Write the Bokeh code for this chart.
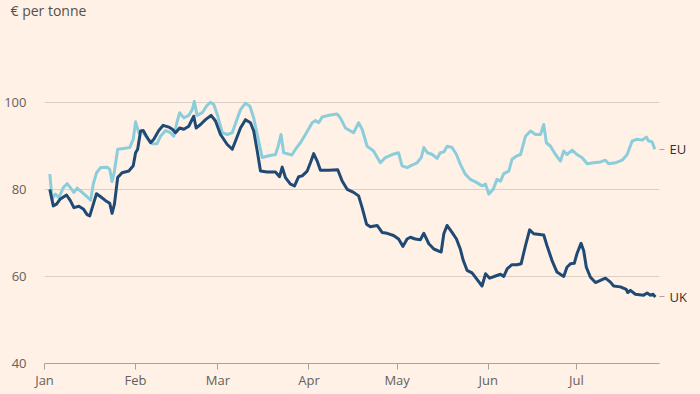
import datetime as dt
from bokeh.plotting import figure
from bokeh.models import Range1d, FixedTicker, LinearAxis
from bokeh.embed import file_html
from bokeh.resources import INLINE

# ---------------- data ----------------
year_start = "2023-01-01"

# days since 1 Jan 2023, and price in EUR per tonne
uk_days = [1.8, 3.0, 4.1, 5.4, 7.5, 8.8, 10.0, 11.7, 13.2, 14.5, 15.4, 16.8, 17.7, 19.1, 20.8, 22.2,
           23.0, 23.8, 24.9, 26.4, 28.7, 30.2, 31.0, 31.7, 32.7, 33.6, 34.7, 36.1, 37.2, 38.9, 40.4, 42.3,
           43.5, 44.6, 46.0, 47.4, 49.1, 50.8, 51.6, 53.1, 54.8, 56.7, 58.2, 59.9, 62.2, 63.9, 65.0, 66.7,
           68.4, 70.1, 71.2, 72.4, 73.5, 75.8, 78.6, 80.0, 80.9, 82.0, 83.7,
           85.1, 86.5, 87.7, 89.4, 90.5, 91.6, 92.8, 93.9, 96.7, 99.8, 101.3, 103.0, 105.2, 106.9, 108.1,
           109.6, 110.9, 113.2, 114.9, 116.6, 118.8, 120.5, 122.0, 123.4, 124.5,
           126.2, 127.9, 129.1, 130.8, 132.5, 135.0, 135.9, 137.0, 138.7, 140.2, 141.5, 142.5, 143.8,
           145.5, 147.0, 148.9, 150.1, 151.5, 153.5, 155.2, 156.3, 157.5, 159.1, 160.8, 162.2,
           163.7, 165.1, 166.5, 169.9, 171.0, 172.7, 174.4, 176.7, 177.8, 179.0, 180.3, 181.2, 182.6,
           183.5, 184.4, 185.8, 187.5, 189.2, 190.9, 192.6, 193.7, 196.0, 198.0, 198.5, 199.4, 201.1,
           203.9, 205.1, 206.2, 207.1, 207.9]
uk_values = [80.0, 76.2, 76.6, 77.8, 78.7, 77.4, 75.8, 76.1, 75.5, 74.2, 73.9, 77.0, 79.0, 78.3, 77.4, 76.8,
             74.5, 76.6, 82.7, 83.8, 84.2, 85.4, 88.4, 89.2, 93.4, 93.5, 92.2, 90.7, 91.5, 93.5, 94.7, 94.3,
             93.8, 93.0, 94.1, 93.8, 94.5, 96.8, 94.1, 94.9, 96.0, 97.0, 95.7, 92.6, 90.3, 89.2, 91.1, 94.1,
             96.0, 95.3, 93.4, 88.8, 84.2, 84.0, 84.0, 82.9, 85.1, 82.7, 81.2,
             80.8, 82.9, 83.1, 84.2, 86.1, 88.2, 86.5, 84.4, 84.4, 84.5, 81.9, 80.0, 79.3, 78.5, 75.8,
             72.0, 71.4, 71.7, 70.1, 69.9, 69.4, 68.6, 66.9, 68.6, 69.0,
             68.6, 68.4, 69.9, 67.5, 66.3, 65.6, 69.8, 71.7, 70.1, 68.6, 66.3, 63.7, 61.4,
             60.8, 59.5, 57.8, 60.6, 59.6, 60.1, 60.5, 60.0, 61.8, 62.7, 62.7, 62.9,
             67.1, 70.7, 69.8, 69.5, 67.1, 63.7, 61.0, 60.0, 62.1, 62.9, 63.0, 65.2, 67.6,
             65.9, 62.1, 59.8, 58.6, 59.1, 59.6, 58.7, 57.8, 57.6, 57.0, 56.3, 56.8, 55.9,
             55.7, 56.2, 55.7, 55.9, 55.3]

eu_days = [1.8, 2.6, 3.7, 4.9, 6.4, 7.7, 8.8, 10.0, 11.1, 12.8, 14.5, 15.7, 16.6, 17.7, 19.1, 21.3,
           22.2, 23.0, 23.8, 24.9, 27.0, 29.0, 30.2, 31.0, 32.1, 33.2, 34.9, 36.6, 38.3, 39.5, 41.2, 42.9,
           44.0, 45.2, 46.0, 47.4, 49.1, 50.3, 51.0, 51.9, 53.7, 55.1, 56.5, 57.6, 58.8, 60.5, 62.2, 63.9,
           65.3, 66.7, 68.4, 69.9, 71.2, 72.4, 74.1, 76.3, 78.6, 79.4, 80.5, 81.4,
           84.2, 85.4, 87.1, 88.8, 91.1, 92.2, 93.3, 94.5, 96.7, 99.6, 100.7, 102.4, 105.2, 106.9, 108.1,
           109.8, 112.0, 114.3, 116.0, 118.3, 120.5, 121.7, 123.4, 124.5,
           126.8, 128.2, 129.1, 130.3, 132.0, 133.6, 134.7, 135.9, 137.0, 138.7, 140.2, 141.5, 143.2,
           144.9, 147.0, 148.9, 150.1, 151.2, 152.7, 154.0, 155.2, 156.3, 158.0, 159.1, 160.8,
           162.0, 163.7, 165.4, 167.1, 168.8, 169.9, 170.8, 172.2, 173.9, 175.6, 176.7, 177.8, 179.6,
           181.2, 182.9, 184.7, 186.9, 189.2, 190.9, 192.0, 194.3, 196.6, 198.3, 200.0, 201.7, 203.4,
           204.8, 205.6, 206.8, 207.7]
eu_values = [83.5, 77.8, 78.9, 78.1, 80.4, 81.3, 80.4, 79.3, 80.3, 79.3, 78.3, 77.5, 81.2, 83.8, 85.0, 85.1,
             84.6, 81.8, 84.2, 89.2, 89.4, 89.6, 91.5, 95.5, 93.0, 93.5, 91.8, 90.5, 90.5, 92.2, 93.5, 93.0,
             92.2, 95.7, 97.6, 96.4, 97.0, 98.3, 100.2, 97.0, 97.6, 99.1, 100.0, 99.5, 97.2, 93.0, 92.6, 93.0,
             95.7, 98.3, 99.8, 99.1, 96.4, 92.6, 87.3, 87.7, 88.0, 89.6, 92.6, 88.4,
             87.9, 89.2, 90.7, 92.6, 95.3, 95.8, 95.3, 96.6, 97.0, 97.3, 96.4, 94.1, 93.0, 95.3, 93.8,
             89.9, 88.8, 86.1, 87.3, 88.0, 88.4, 85.4, 85.0, 85.4,
             86.1, 87.3, 89.6, 88.4, 88.0, 87.1, 88.4, 88.6, 89.9, 89.6, 88.0, 85.8, 83.5,
             82.3, 81.6, 80.8, 81.2, 78.9, 80.0, 82.3, 81.9, 83.6, 84.2, 86.9, 87.7,
             88.0, 92.2, 93.4, 92.6, 92.6, 94.9, 90.7, 89.9, 88.0, 86.5, 88.8, 88.0, 89.0,
             88.0, 87.3, 85.9, 86.1, 86.3, 86.7, 85.9, 86.1, 86.7, 88.0, 91.1, 91.5, 91.3,
             92.0, 91.1, 90.9, 89.2]

month_dates = ["2023-01-01", "2023-02-01", "2023-03-01", "2023-04-01",
               "2023-05-01", "2023-06-01", "2023-07-01"]
month_labels = ["Jan", "Feb", "Mar", "Apr", "May", "Jun", "Jul"]
y_ticks = [40, 60, 80, 100]
y_grid = [60, 80, 100]
axis_end_day = 209.3
y_top = 118.55
series_names = ["EU", "UK"]
unit_title = "€ per tonne"

# ---------------- styling ----------------
BG = "#FFF1E5"
TEXT = "#66605C"
FONT = "Open Sans"
EU_COLOR = "#8CCDDC"
UK_COLOR = "#1F4A76"
AXIS_GREY = "#A9A29B"

t0 = dt.datetime.fromisoformat(year_start)


def to_dt(days):
    return [t0 + dt.timedelta(days=d) for d in days]


def ms(d):
    return (d - dt.datetime(1970, 1, 1)).total_seconds() * 1000.0


x_end = t0 + dt.timedelta(days=axis_end_day)

p = figure(width=700, height=394, output_backend="svg", toolbar_location=None,
           x_axis_type="datetime",
           x_range=Range1d(ms(t0), ms(x_end)), y_range=Range1d(40, y_top),
           min_border_left=44, min_border_right=41, min_border_top=20, min_border_bottom=31)

p.background_fill_color = BG
p.border_fill_color = BG
p.outline_line_color = None

# unit title
p.title.text = unit_title
p.title.align = "left"
p.title.vertical_align = "top"
p.title.offset = -34
p.title.standoff = 0
p.title.text_line_height = 1.0
p.title.text_font = FONT
p.title.text_font_size = "14px"
p.title.text_font_style = "normal"
p.title.text_color = "#55504C"

# grid
p.xgrid.grid_line_color = None
p.ygrid.ticker = FixedTicker(ticks=y_grid)
p.ygrid.grid_line_color = "#DCD0C6"
p.ygrid.grid_line_width = 1

# y axis: labels only
p.yaxis.ticker = FixedTicker(ticks=y_ticks)
p.yaxis.axis_line_color = None
p.yaxis.major_tick_line_color = None
p.yaxis.minor_tick_line_color = None
p.yaxis.major_label_standoff = 12
p.yaxis.major_label_text_font = FONT
p.yaxis.major_label_text_font_size = "13px"
p.yaxis.major_label_text_color = TEXT

# x axis
tick_ms = [ms(dt.datetime.fromisoformat(d)) for d in month_dates]
p.xaxis.ticker = FixedTicker(ticks=tick_ms)
p.xaxis.major_label_overrides = {t: lab for t, lab in zip(tick_ms, month_labels)}
p.xaxis.axis_line_color = AXIS_GREY
p.xaxis.axis_line_width = 1
p.xaxis.major_tick_line_color = AXIS_GREY
p.xaxis.major_tick_in = 0
p.xaxis.major_tick_out = 6
p.xaxis.minor_tick_line_color = None
p.xaxis.major_label_standoff = 1
p.xaxis.major_label_text_font = FONT
p.xaxis.major_label_text_font_size = "13px"
p.xaxis.major_label_text_color = TEXT

# lines
p.line(to_dt(eu_days), eu_values, line_color=EU_COLOR, line_width=3, line_join="round")
p.line(to_dt(uk_days), uk_values, line_color=UK_COLOR, line_width=3, line_join="round")

# series labels at the line ends, as a right-hand axis
last_vals = [eu_values[-1], uk_values[-1]]
end_axis = LinearAxis(ticker=FixedTicker(ticks=last_vals),
                      major_label_overrides={v: n for v, n in zip(last_vals, series_names)})
end_axis.axis_line_color = None
end_axis.major_tick_line_color = AXIS_GREY
end_axis.major_tick_in = 0
end_axis.major_tick_out = 5
end_axis.minor_tick_line_color = None
end_axis.major_label_standoff = 5
end_axis.major_label_text_font = FONT
end_axis.major_label_text_font_size = "13px"
end_axis.major_label_text_color = "#33302E"
p.add_layout(end_axis, "right")

html = file_html(p, INLINE)
html = html.replace("<body>", '<body style="background-color:#FFF1E5;">')
open("out.html", "w").write(html)
